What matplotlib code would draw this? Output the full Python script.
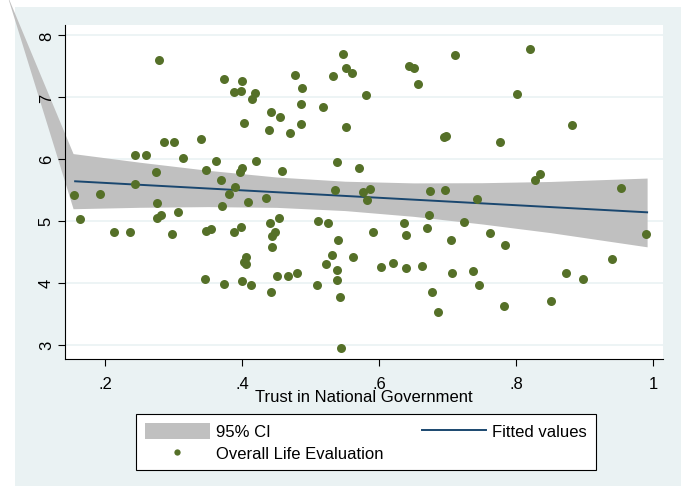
import numpy as np
import matplotlib
matplotlib.use('Agg')
from matplotlib import pyplot as plt
from matplotlib.patches import Rectangle

plt.rcParams['font.family'] = ['Liberation Sans', 'DejaVu Sans']

# trust in national government (x) vs overall life evaluation (y)
gov_trust = [0.279, 0.374, 0.388, 0.398, 0.400, 0.418, 0.414, 0.403, 0.477, 0.487,
             0.485, 0.486, 0.442, 0.455, 0.439, 0.469, 0.518, 0.533, 0.547, 0.552,
             0.560, 0.551, 0.539, 0.286, 0.301, 0.340, 0.243, 0.260, 0.313, 0.361,
             0.420, 0.347, 0.399, 0.396, 0.458, 0.274, 0.369, 0.243, 0.389, 0.535,
             0.155, 0.192, 0.380, 0.434, 0.581, 0.643, 0.650, 0.656, 0.710, 0.820,
             0.801, 0.882, 0.694, 0.698, 0.776, 0.571, 0.828, 0.834, 0.576, 0.587,
             0.674, 0.696, 0.742, 0.953, 0.990, 0.582, 0.163, 0.276, 0.275, 0.282,
             0.306, 0.213, 0.236, 0.297, 0.371, 0.408, 0.347, 0.354, 0.388, 0.398,
             0.440, 0.454, 0.448, 0.443, 0.444, 0.405, 0.402, 0.405, 0.345, 0.374,
             0.399, 0.413, 0.442, 0.451, 0.467, 0.480, 0.511, 0.525, 0.540, 0.531,
             0.522, 0.538, 0.538, 0.509, 0.542, 0.544, 0.562, 0.591, 0.636, 0.639,
             0.673, 0.669, 0.724, 0.705, 0.762, 0.784, 0.603, 0.620, 0.639, 0.663,
             0.706, 0.737, 0.746, 0.677, 0.686, 0.782, 0.851, 0.873, 0.897, 0.940]
life_eval = [7.59, 7.29, 7.08, 7.09, 7.26, 7.07, 6.96, 6.58, 7.36, 7.14,
             6.88, 6.56, 6.76, 6.67, 6.46, 6.41, 6.84, 7.34, 7.69, 7.47,
             7.38, 6.51, 5.95, 6.28, 6.27, 6.32, 6.06, 6.06, 6.01, 5.96,
             5.96, 5.82, 5.85, 5.78, 5.81, 5.78, 5.66, 5.59, 5.55, 5.50,
             5.42, 5.43, 5.43, 5.37, 7.03, 7.50, 7.47, 7.21, 7.67, 7.77,
             7.05, 6.54, 6.35, 6.37, 6.27, 5.86, 5.66, 5.76, 5.46, 5.52,
             5.48, 5.50, 5.35, 5.53, 4.79, 5.34, 5.03, 5.29, 5.05, 5.10,
             5.14, 4.82, 4.82, 4.78, 5.24, 5.30, 4.83, 4.86, 4.82, 4.90,
             4.96, 5.04, 4.82, 4.75, 4.57, 4.41, 4.34, 4.31, 4.06, 3.98,
             4.03, 3.96, 3.85, 4.11, 4.11, 4.15, 5.00, 4.96, 4.69, 4.44,
             4.30, 4.20, 4.05, 3.96, 3.77, 2.94, 4.41, 4.82, 4.97, 4.77,
             5.09, 4.88, 4.98, 4.69, 4.80, 4.61, 4.26, 4.32, 4.24, 4.27,
             4.15, 4.19, 3.96, 3.85, 3.52, 3.62, 3.71, 4.15, 4.06, 4.38]

# fitted line and 95% band
fit_x = [0.156, 0.991]
fit_y = [5.638, 5.137]
ci_x = [0.056, 0.153, 0.25, 0.35, 0.45, 0.55, 0.65, 0.75, 0.85, 0.991]
ci_lo = [8.66, 5.195, 5.218, 5.229, 5.217, 5.165, 5.072, 4.949, 4.809, 4.58]
ci_hi = [8.66, 6.085, 5.946, 5.815, 5.707, 5.639, 5.612, 5.615, 5.635, 5.69]

yticks = [3, 4, 5, 6, 7, 8]

W, H = 684, 489
fs = 12
fig = plt.figure(figsize=(W / 100, H / 100), dpi=100)
fig.patch.set_facecolor('white')
bg = '#eaf2f3'
fig.add_artist(Rectangle((15 / W, 1 - 487 / H), 666 / W, 479 / H,
                         transform=fig.transFigure, facecolor=bg,
                         edgecolor='none', zorder=-5))

ax = fig.add_axes([65 / W, 1 - 360 / H, 598 / W, 334 / H])
ax.set_zorder(1)
ax.set_facecolor('white')

# gridlines drawn by hand so tick labels can sit above the CI wedge
for yv in yticks:
    ax.axhline(yv, color=bg, lw=1.2, zorder=0.5)

band = ax.fill_between(ci_x, ci_lo, ci_hi, color='#c0c0c0', linewidth=0,
                       clip_on=False, zorder=1, label='95% CI')
line, = ax.plot(fit_x, fit_y, color='#1a476f', lw=1.4, zorder=3,
                label='Fitted values')
pts = ax.scatter(gov_trust, life_eval, s=42, color='#557028', linewidths=0,
                 zorder=4, label='Overall Life Evaluation')

ax.set_xlim(0.1412, 1.0142)
ax.set_ylim(2.769, 8.161)
ax.set_xticks([0.2, 0.4, 0.6, 0.8, 1.0])
ax.set_xticklabels(['.2', '.4', '.6', '.8', '1'])
ax.set_yticks(yticks)
ax.set_yticklabels([str(v) for v in yticks], rotation=90, va='center')
ax.tick_params(axis='both', labelsize=fs, length=5, width=0.8, color='black')
ax.tick_params(axis='x', pad=7)
ax.tick_params(axis='y', pad=3)
ax.set_axisbelow(False)
for s in ['top', 'right']:
    ax.spines[s].set_visible(False)
for s in ['left', 'bottom']:
    ax.spines[s].set_linewidth(0.8)
ax.set_xlabel('Trust in National Government', fontsize=fs, labelpad=-1)

leg = fig.legend(handles=[band, pts, line], ncol=2, loc='center',
                 bbox_to_anchor=(366 / W, 1 - 443 / H), fontsize=fs,
                 frameon=True, fancybox=False, edgecolor='black',
                 facecolor='white', framealpha=1,
                 handlelength=3.85, handleheight=1.1, handletextpad=0.36,
                 columnspacing=2.32, labelspacing=0.3, borderpad=0.55,
                 markerscale=0.7)
leg.get_frame().set_linewidth(0.8)

fig.savefig('out.png', dpi=100, facecolor='white')
